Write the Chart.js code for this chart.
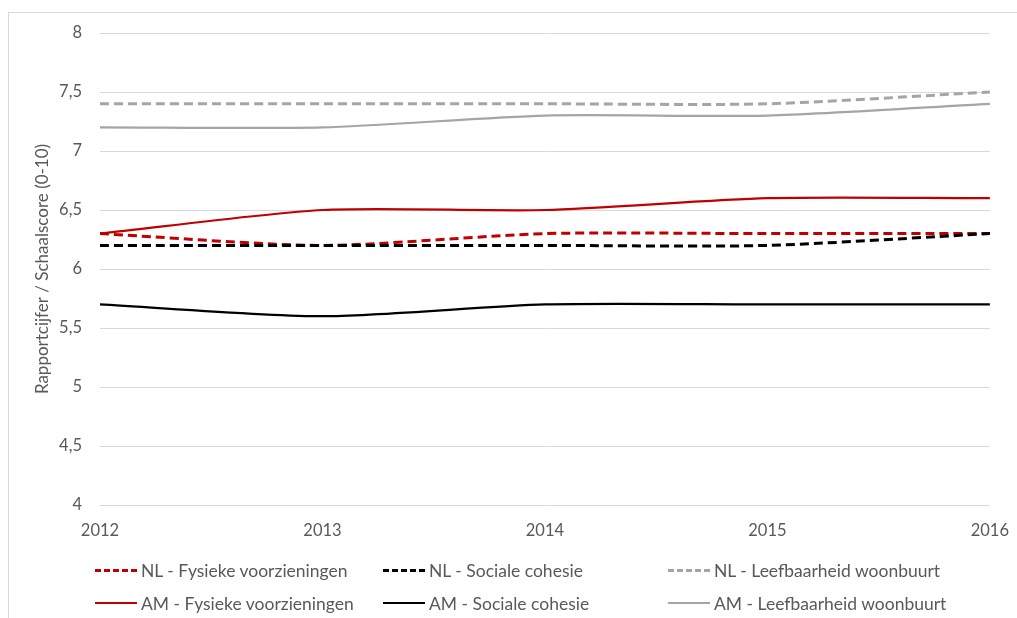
<!DOCTYPE html>
<html><head><meta charset="utf-8">
<script src="https://cdn.jsdelivr.net/npm/chart.js@4"></script>
<style>
html,body{margin:0;padding:0;background:#fff;}
#wrap{position:relative;width:1017px;height:618px;overflow:hidden;font-family:Lato, "Open Sans", sans-serif;}
#frame{position:absolute;left:8px;top:12px;width:1100px;height:700px;border:1px solid #D9D9D9;box-sizing:border-box;}
canvas{position:absolute;left:0;top:0;}
#legend{position:absolute;left:0;top:0;width:1017px;height:618px;pointer-events:none;}
.li{position:absolute;height:20px;display:flex;align-items:center;font-size:17.5px;color:#595959;white-space:nowrap;}
.sw{width:42px;height:0;margin-right:4px;}
</style></head>
<body><div id="wrap"><div id="frame"></div><canvas id="c" width="1017" height="618"></canvas><div id="legend"></div></div>
<script>
const years = ['2012','2013','2014','2015','2016'];
const nlFysiek = [6.3, 6.2, 6.3, 6.3, 6.3];
const nlSociaal = [6.2, 6.2, 6.2, 6.2, 6.3];
const nlLeefbaar = [7.4, 7.4, 7.4, 7.4, 7.5];
const amFysiek = [6.3, 6.5, 6.5, 6.6, 6.6];
const amSociaal = [5.7, 5.6, 5.7, 5.7, 5.7];
const amLeefbaar = [7.2, 7.2, 7.3, 7.3, 7.4];
const yTitle = 'Rapportcijfer / Schaalscore (0-10)';

const RED='#C00000', BLK='#000000', GRY='#A5A5A5';
function ds(label,data,color,dashed){
  return {label,data,borderColor:color,backgroundColor:color,borderWidth:dashed?3:2.25,
    borderDash:dashed?[9,5]:[],pointRadius:0,tension:0.25,fill:false,_dashed:dashed};
}
const datasets=[
  ds('NL - Fysieke voorzieningen',nlFysiek,RED,true),
  ds('NL - Sociale cohesie',nlSociaal,BLK,true),
  ds('NL - Leefbaarheid woonbuurt',nlLeefbaar,GRY,true),
  ds('AM - Fysieke voorzieningen',amFysiek,RED,false),
  ds('AM - Sociale cohesie',amSociaal,BLK,false),
  ds('AM - Leefbaarheid woonbuurt',amLeefbaar,GRY,false)
];
const drawOrder=[datasets[5],datasets[4],datasets[3],datasets[2],datasets[1],datasets[0]];
const fam='Lato, "Open Sans", sans-serif';
const font={family:fam,size:16.5};
new Chart(document.getElementById('c'),{
  type:'line',
  data:{labels:years,datasets:drawOrder},
  options:{
    responsive:false,animation:false,
    layout:{padding:{left:0,right:21,top:33,bottom:73}},
    plugins:{legend:{display:false},tooltip:{enabled:false}},
    scales:{
      x:{offset:false,grid:{display:false},border:{display:false},
        ticks:{color:'#595959',font,padding:8,maxRotation:0},
        afterFit:s=>{s.height=40;}},
      y:{min:4,max:8,grid:{color:'#D9D9D9',drawTicks:false,lineWidth:1},border:{display:false},
        ticks:{stepSize:0.5,color:'#595959',font,padding:18,
          callback:v=>String(v).replace('.',',')},
        title:{display:true,text:yTitle,color:'#595959',font:{family:fam,size:17},padding:{top:32,bottom:0}},
        afterFit:s=>{s.width=100;}}
    }
  }
});
const leg=document.getElementById('legend');
const cols=[95,383,668], rows=[560,593];
datasets.forEach((d,i)=>{
  const el=document.createElement('div');el.className='li';
  el.style.left=cols[i%3]+'px';el.style.top=rows[Math.floor(i/3)]+'px';
  const sw=document.createElement('div');sw.className='sw';
  if(d._dashed){sw.style.borderTop='3px dashed '+d.borderColor;}
  else{sw.style.borderTop='2px solid '+d.borderColor;}
  el.appendChild(sw);
  const t=document.createElement('span');t.textContent=d.label;el.appendChild(t);
  leg.appendChild(el);
});
</script></body></html>
